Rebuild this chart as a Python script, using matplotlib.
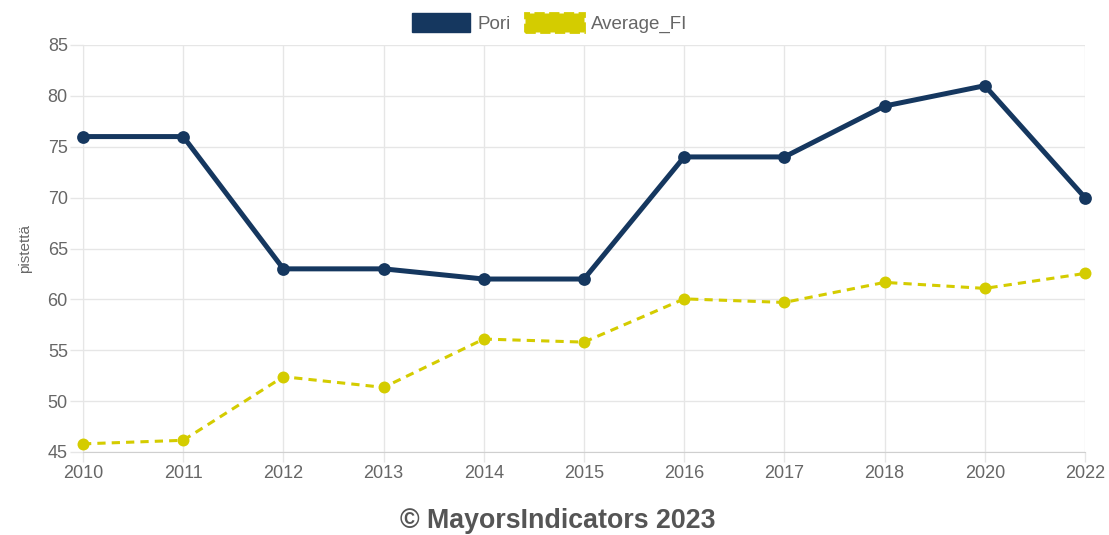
import matplotlib
matplotlib.use("Agg")
import matplotlib.pyplot as plt
from matplotlib.patches import Patch

years = ["2010", "2011", "2012", "2013", "2014", "2015", "2016", "2017", "2018", "2020", "2022"]
pori = [76, 76, 63, 63, 62, 62, 74, 74, 79, 81, 70]
average_fi = [45.8, 46.15, 52.4, 51.35, 56.1, 55.8, 60.05, 59.7, 61.67, 61.08, 62.55]
y_ticks = [45, 50, 55, 60, 65, 70, 75, 80, 85]

navy = "#15375f"
yellow = "#d4cc00"
grid = "#e6e6e6"
txt = "#666666"

plt.rcParams['font.family'] = ['Liberation Sans', 'DejaVu Sans']

fig = plt.figure(figsize=(11.09, 5.35), dpi=100)
ax = fig.add_axes([83/1109, 1-452/535, (1085-83)/1109, (452-45)/535])

x = list(range(len(years)))
ax.plot(x, average_fi, color=yellow, lw=2.2, ls=(0, (2.7, 2.0)), marker='o', ms=8.6,
        markeredgewidth=0, zorder=3, clip_on=False)
ax.plot(x, pori, color=navy, lw=3.6, marker='o', ms=9.2, markeredgewidth=0,
        zorder=4, clip_on=False)

ax.set_xlim(0, len(years)-1)
ax.set_ylim(45, 85)
ax.set_xticks(x)
ax.set_xticklabels(years)
ax.set_yticks(y_ticks)
ax.grid(True, color=grid, lw=1)
ax.set_axisbelow(True)
for s in ax.spines.values():
    s.set_visible(False)
ax.spines['bottom'].set_visible(True)
ax.spines['bottom'].set_color("#cfcfcf")
ax.spines['left'].set_visible(True)
ax.spines['left'].set_color(grid)
ax.tick_params(axis='both', colors=grid, labelcolor=txt, labelsize=13, width=1)
ax.tick_params(axis='x', length=7, pad=2)
ax.tick_params(axis='y', length=9.4, pad=1.5)
ax.set_ylabel("pistettä", color=txt, fontsize=11, labelpad=11)

handles = [Patch(facecolor=navy, edgecolor=navy, lw=1),
           Patch(facecolor=yellow, edgecolor=yellow, lw=2, ls='--')]
fig.legend(handles, ["Pori", "Average_FI"], loc='center', bbox_to_anchor=(549.5/1109, 1-23/535),
           ncol=2, frameon=False, fontsize=13.5, labelcolor=txt, handlelength=3.1,
           handleheight=1.2, handletextpad=0.37, columnspacing=0.8, borderpad=0)

fig.text(558/1109, 1-521/535, "© MayorsIndicators 2023", ha='center', va='center',
         fontsize=19.3, fontweight='bold', color="#555555")

fig.savefig("out.png", dpi=100)
